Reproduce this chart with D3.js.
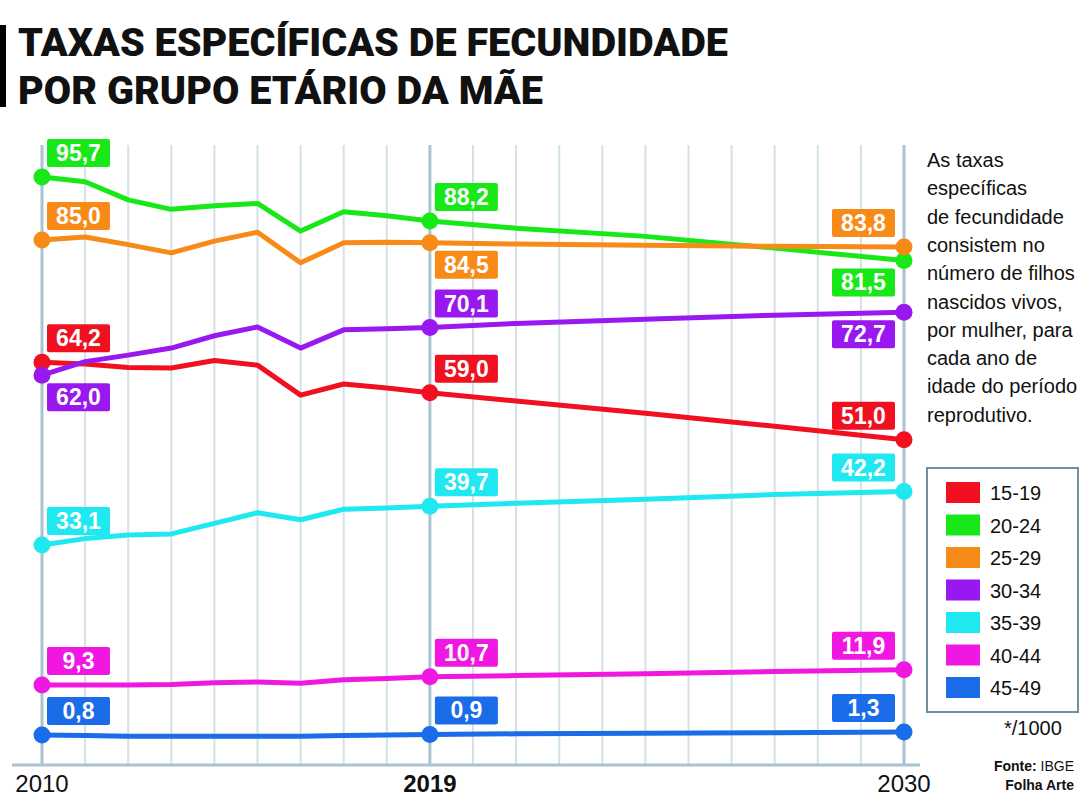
<!DOCTYPE html><html><head><meta charset="utf-8"><script src="https://cdn.jsdelivr.net/npm/d3@7"></script>
<style>body{margin:0;background:#fff}</style></head><body><svg width="1092" height="800"></svg><script>
const groups=["15-19","20-24","25-29","30-34","35-39","40-44","45-49"];
const colors=["#f01020","#18e818","#f88a18","#9a18f0","#20e8f0","#f018e0","#1a6ce8"];
const years=[2010,2011,2012,2013,2014,2015,2016,2017,2018,2019,2021,2024,2027,2030];
const r1519=[64.2,63.9,63.3,63.2,64.5,63.7,58.6,60.5,59.8,59.0,57.6,55.5,53.3,51.0];
const r2024=[95.7,94.9,91.8,90.2,90.8,91.2,86.5,89.8,89.1,88.2,87.0,85.6,83.6,81.5];
const r2529=[85.0,85.5,84.2,82.8,84.8,86.3,81.1,84.5,84.6,84.5,84.3,84.1,83.9,83.8];
const r3034=[62.0,64.3,65.4,66.6,68.7,70.2,66.6,69.7,69.9,70.1,70.8,71.5,72.2,72.7];
const r3539=[33.1,34.2,34.8,35.0,36.8,38.6,37.4,39.2,39.4,39.7,40.2,40.9,41.7,42.2];
const r4044=[9.3,9.3,9.3,9.4,9.7,9.8,9.6,10.2,10.4,10.7,10.9,11.2,11.6,11.9];
const r4549=[0.8,0.7,0.6,0.6,0.6,0.6,0.6,0.7,0.8,0.9,1.0,1.1,1.2,1.3];
const series=[r1519,r2024,r2529,r3034,r3539,r4044,r4549];
// label placement: [2010,2019,2030] above(-1)/below(1)
const place=[[-1,-1,-1],[-1,-1,1],[-1,1,-1],[1,-1,1],[-1,-1,-1],[-1,-1,-1],[-1,-1,-1]];
const xTicks=[2010,2019,2030];
const fmt=v=>v.toFixed(1).replace(".",",");
const svg=d3.select("svg");
const x=d3.scaleLinear().domain([2010,2030]).range([42,904]);
const y=d3.scaleLinear().domain([0,100]).range([739.7,151.7]);
// title
svg.append("rect").attr("x",0).attr("y",25).attr("width",6).attr("height",82).attr("fill","#000");
["TAXAS ESPECÍFICAS DE FECUNDIDADE","POR GRUPO ETÁRIO DA MÃE"].forEach((t,i)=>svg.append("text").attr("x",18).attr("y",56+i*48).attr("font-family","Roboto").attr("font-weight",900).attr("font-size",39).attr("textLength",i?525:710).attr("lengthAdjust","spacingAndGlyphs").attr("fill","#111").text(t));
// grid
d3.range(2010,2031).forEach(yr=>{const major=xTicks.includes(yr);
svg.append("line").attr("x1",x(yr)).attr("x2",x(yr)).attr("y1",145).attr("y2",765).attr("stroke",major?"#a9c3d0":"#d3e2e8").attr("stroke-width",major?3:2);});
svg.append("line").attr("x1",12).attr("x2",920).attr("y1",765).attr("y2",765).attr("stroke","#a9c3d0").attr("stroke-width",3);
xTicks.forEach(t=>svg.append("text").attr("x",x(t)).attr("y",792).attr("text-anchor","middle").attr("font-family","Liberation Sans").attr("font-size",24).attr("font-weight",t==2019?"bold":"normal").attr("fill","#111").text(t));
const line=d3.line().x((d,i)=>x(years[i])).y(d=>y(d));
series.forEach((s,k)=>{
 svg.append("path").attr("d",line(s)).attr("fill","none").attr("stroke",colors[k]).attr("stroke-width",5).attr("stroke-linejoin","round");
});
series.forEach((s,k)=>{
 xTicks.forEach((t,j)=>{const i=years.indexOf(t);const cx=x(t),cy=y(s[i]);
  svg.append("circle").attr("cx",cx).attr("cy",cy).attr("r",8.5).attr("fill",colors[k]);
  const w=63,h=28,bx=j==2?cx-9-w:cx+5,by=place[k][j]<0?cy-38:cy+8;
  svg.append("rect").attr("x",bx).attr("y",by).attr("width",w).attr("height",h).attr("rx",2).attr("fill",colors[k]);
  svg.append("text").attr("x",bx+w/2).attr("y",by+22).attr("text-anchor","middle").attr("font-family","Liberation Sans").attr("font-weight","bold").attr("font-size",23).attr("fill","#fff").text(fmt(s[i]));
 });
});
// note text
["As taxas","específicas","de fecundidade","consistem no","número de filhos","nascidos vivos,","por mulher, para","cada ano de","idade do período","reprodutivo."].forEach((t,i)=>svg.append("text").attr("x",927).attr("y",167+i*28.3).attr("font-family","Liberation Sans").attr("font-size",20).attr("fill","#111").text(t));
// legend
svg.append("rect").attr("x",927).attr("y",468).attr("width",151).attr("height",244).attr("fill","#fff").attr("stroke","#6f8f9d").attr("stroke-width",2);
groups.forEach((g,i)=>{svg.append("rect").attr("x",946).attr("y",482+i*32.5).attr("width",34).attr("height",21).attr("fill",colors[i]);
 svg.append("text").attr("x",990).attr("y",500+i*32.5).attr("font-family","Liberation Sans").attr("font-size",20).attr("fill","#111").text(g);});
svg.append("text").attr("x",1004).attr("y",735).attr("font-family","Liberation Sans").attr("font-size",20).attr("fill","#111").text("*/1000");
const f=svg.append("text").attr("x",1074).attr("y",771).attr("text-anchor","end").attr("font-family","Liberation Sans").attr("font-size",14).attr("fill","#111");
f.append("tspan").attr("font-weight","bold").text("Fonte: ");f.append("tspan").text("IBGE");
svg.append("text").attr("x",1074).attr("y",790).attr("text-anchor","end").attr("font-family","Liberation Sans").attr("font-size",14).attr("font-weight","bold").attr("fill","#111").text("Folha Arte");
</script></body></html>
